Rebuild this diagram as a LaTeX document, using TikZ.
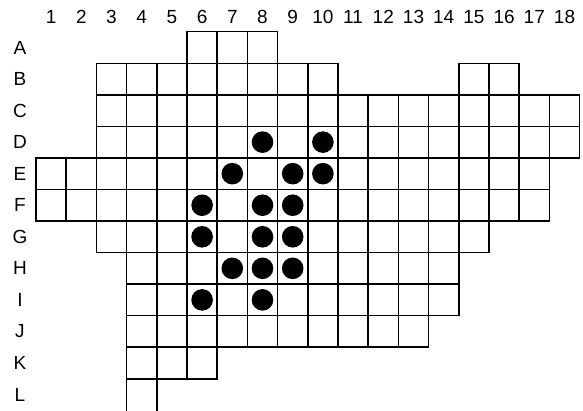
\documentclass[tikz,border=0pt]{standalone}
\usepackage{fontspec}
\setmainfont{Liberation Sans}
\usepackage{tikz}

\tikzset{
  cellbox/.style={draw=black,line width=1.5pt},
  stone/.style={fill=black},
  lbl/.style={font=\fontsize{19}{22}\selectfont,inner sep=0pt}
}

\begin{document}
\begin{tikzpicture}
    \useasboundingbox (0,0) rectangle (583pt,-410pt);
    \clip (0,0) rectangle (583pt,-410pt);

  \begin{scope}[shift={(36pt,-31.7pt)},x=30.2pt,y=31.55pt]
    % column numbers
    \foreach \c in {1,...,18}
      \node[lbl] (col\c) at (\c-0.5,0.47) {\c};

    % row letters
    \foreach \r/\name in {1/A,2/B,3/C,4/D,5/E,6/F,7/G,8/H,9/I,10/J,11/K,12/L}
      \node[lbl] (row\name) at (-0.53,-\r+0.5) {\name};

    % board cells, row by row
    \foreach \r/\a/\b in {1/6/8, 2/3/10, 2/15/16, 3/3/18, 4/3/18, 5/1/17, 6/1/17,
                          7/3/15, 8/4/14, 9/4/14, 10/4/13, 11/4/6}
      \foreach \c in {\a,...,\b}
        \draw[cellbox] (\c-1,-\r+1) rectangle (\c,-\r);

    % last row runs off the bottom
    \draw[cellbox] (3,-11) -- (3,-12.2);
    \draw[cellbox] (4,-11) -- (4,-12.2);

    % stones
    \foreach \c/\r in {8/4, 10/4, 7/5, 9/5, 10/5, 6/6, 8/6, 9/6,
                       6/7, 8/7, 9/7, 7/8, 8/8, 9/8, 6/9, 8/9}
      \fill[stone] (\c-0.5,-\r+0.5) circle[radius=10.8pt];
  \end{scope}
\end{tikzpicture}
\end{document}
